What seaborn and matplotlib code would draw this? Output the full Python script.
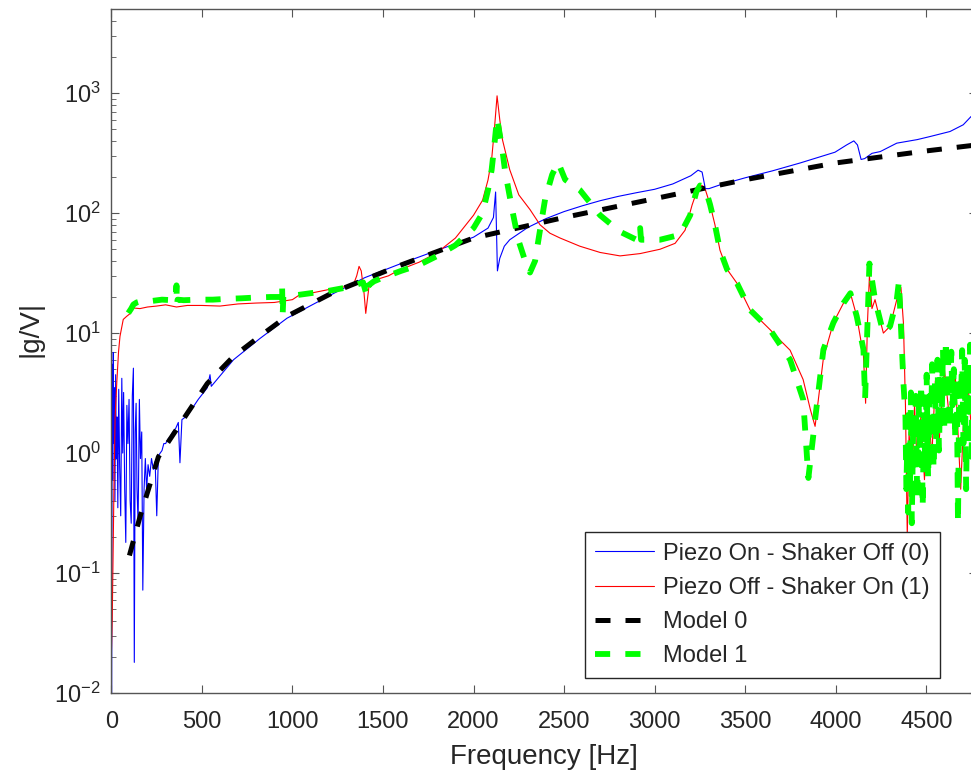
import numpy as np
import pandas as pd
import matplotlib
matplotlib.use("Agg")
import matplotlib.pyplot as plt
import seaborn as sns

sns.set_style('ticks')
plt.rcParams['font.family'] = ['Liberation Sans', 'DejaVu Sans']
plt.rcParams['mathtext.fontset'] = 'custom'
plt.rcParams['mathtext.rm'] = 'Liberation Sans'
plt.rcParams['mathtext.it'] = 'Liberation Sans:italic'

# Piezo On - Shaker Off (0)
f_piezo = [2, 5, 8, 11, 14, 17, 20, 24, 28, 32, 36, 41, 46, 52, 58, 63, 68, 74, 80, 86,
           92, 98, 104, 110, 116, 122, 127, 132, 137, 142, 148, 155, 161, 168, 174, 181,
           188, 195, 203, 212, 222, 232, 242, 251, 260, 270, 280, 290, 300, 312, 325, 340,
           355, 370, 379, 390, 420, 480, 530, 545, 552, 675, 820, 970, 1230, 1400, 1580,
           1800, 2000, 2080, 2110, 2122, 2128, 2132, 2145, 2170, 2200, 2300, 2400, 2500,
           2600, 2700, 2800, 2900, 3000, 3100, 3200, 3240, 3262, 3280, 3300, 3361, 3500,
           3650, 3804, 3996, 4060, 4100, 4120, 4140, 4160, 4200, 4246, 4337, 4450, 4521,
           4631, 4704, 4747, 4790]
g_piezo = [0.01, 5.5, 0.6, 6.9, 1.2, 3.5, 0.4, 4.5, 0.9, 2.0, 0.35, 3.4, 0.8, 0.3, 4.2,
           1.0, 3.2, 0.5, 0.18, 2.5, 1.2, 2.8, 0.4, 0.26, 3.0, 5.1, 0.018, 1.5, 2.6, 0.5,
           0.26, 2.8, 0.9, 1.5, 0.072, 0.5, 0.9, 0.49, 0.8, 0.64, 0.9, 0.73, 0.85, 0.30,
           0.95, 1.0, 1.05, 1.2, 1.2, 1.3, 1.37, 1.5, 1.6, 1.8, 0.83, 1.9, 2.05, 2.8, 3.5,
           4.5, 3.6, 6.0, 9.0, 13.3, 21.5, 29, 37, 49, 63, 75, 92, 150, 60, 33, 42, 53, 60,
           76, 90, 103, 115, 127, 138, 148, 158, 175, 205, 228, 220, 160, 160, 172, 197,
           225, 262, 322, 370, 400, 370, 280, 285, 315, 326, 383, 410, 435, 479, 545, 638,
           680]

# Piezo Off - Shaker On (1)
f_shaker = [0, 5, 10, 15, 21, 30, 40, 48, 66, 85, 103, 120, 158, 200, 250, 300, 360, 420,
            500, 600, 700, 800, 900, 1000, 1043, 1100, 1227, 1300, 1337, 1355, 1368, 1380,
            1395, 1405, 1412, 1425, 1465, 1530, 1594, 1700, 1800, 1900, 2000, 2050, 2080,
            2100, 2115, 2130, 2145, 2160, 2200, 2250, 2312, 2367, 2422, 2478, 2587, 2699,
            2809, 2920, 3030, 3113, 3168, 3207, 3240, 3262, 3280, 3306, 3333, 3361, 3400,
            3455, 3527, 3637, 3700, 3748, 3820, 3860, 3886, 3932, 3987, 4043, 4081, 4116,
            4153, 4165, 4175, 4186, 4200, 4217, 4263, 4300, 4337, 4360, 4374, 4385, 4395,
            4405, 4420, 4435, 4450, 4470, 4490, 4510, 4530, 4550, 4570, 4600, 4630, 4660,
            4690, 4720, 4750, 4780]
g_shaker = [0.02, 0.04, 0.15, 0.56, 2.0, 3.8, 7.0, 9.4, 13, 13.8, 14.5, 16.2, 16, 16.5,
            16.8, 17.2, 16.5, 17, 17, 16.8, 17.5, 17.8, 18, 19, 21, 21.5, 23.5, 24.5, 25.4,
            30, 36, 33, 22, 14.6, 18, 26, 28, 30, 33.8, 39, 47, 62, 96, 128, 189, 280, 494,
            950, 600, 408, 230, 142, 107, 80, 68, 62, 53, 47, 44, 46, 50, 56, 72, 117, 163,
            170, 157, 118, 80, 49, 34, 26, 15.6, 10.7, 8.5, 7.2, 4.1, 2.3, 1.67, 6.2, 12.2,
            17.8, 21.5, 13.8, 6.5, 2.6, 12, 30, 16, 19, 10, 11.4, 19, 24, 12, 2.5, 0.2, 1.5,
            0.5, 2.5, 0.8, 2.0, 0.6, 3.0, 0.9, 4.0, 1.2, 5.0, 1.8, 4.5, 0.5, 6.0, 1.5, 5.0]

# Model 0
f_model0 = [100, 160, 260, 420, 530, 675, 820, 970, 1230, 1580, 2000, 2500, 3000, 3500,
            4000, 4500, 4790]
g_model0 = [0.14, 0.30, 0.93, 2.15, 3.8, 6.4, 9.4, 13.8, 22, 36, 62, 92, 132, 190, 262,
            330, 372]

# Model 1
f_model1 = [94, 110, 122, 140, 177, 220, 280, 340, 355, 360, 362, 366, 400, 480, 560, 640,
            720, 800, 880, 940, 943, 946, 950, 1000, 1100, 1200, 1300, 1360, 1390, 1405,
            1412, 1420, 1450, 1500, 1600, 1700, 1800, 1900, 2000, 2050, 2080, 2100, 2115,
            2130, 2145, 2160, 2175, 2214, 2247, 2285, 2312, 2340, 2367, 2395, 2434, 2467,
            2506, 2587, 2699, 2809, 2900, 2915, 2920, 2925, 2940, 3030, 3140, 3196, 3230,
            3251, 3265, 3280, 3306, 3333, 3361, 3400, 3455, 3527, 3637, 3748, 3820, 3849,
            3886, 3932, 3987, 4043, 4081, 4116, 4153, 4162, 4186, 4217, 4263, 4300, 4337,
            4349, 4374, 4385, 4390, 4395, 4400, 4405, 4410, 4415, 4420, 4428, 4435, 4442,
            4450, 4458, 4465, 4472, 4480, 4488, 4495, 4502, 4510, 4518, 4525, 4532, 4540,
            4548, 4555, 4562, 4570, 4578, 4585, 4592, 4600, 4608, 4615, 4622, 4630, 4638,
            4645, 4652, 4660, 4668, 4675, 4682, 4690, 4698, 4705, 4712, 4720, 4728, 4735,
            4742, 4750, 4758, 4765, 4772, 4780]
g_model1 = [14.7, 16, 17.3, 18, 18.7, 18.5, 19, 18.8, 19, 25, 17, 19, 18.8, 19, 19, 19.3,
            19.5, 19.8, 20, 20, 25, 14, 20, 20.5, 21.5, 22.5, 24, 25.5, 26.5, 22, 20, 25,
            27, 29, 33, 37, 44, 54, 75, 100, 156, 229, 370, 620, 450, 330, 220, 106, 60, 40,
            32, 40, 72, 130, 209, 265, 190, 156, 96, 70, 60, 60, 75, 60, 60, 60, 66, 96, 150,
            170, 168, 160, 118, 80, 49, 34, 26, 15.6, 10.7, 6.0, 2.8, 0.62, 1.9, 7.3, 12.2,
            17.8, 21.5, 13.8, 7.3, 2.8, 38, 19, 10, 11.4, 19, 27, 3.8, 2.0, 0.5, 1.2, 0.32,
            2.5, 0.45, 3.2, 0.26, 2.0, 0.5, 3.0, 0.4, 2.6, 0.8, 3.8, 0.35, 2.2, 0.7, 4.5,
            0.6, 3.0, 1.0, 5.5, 0.73, 4.0, 1.2, 6.0, 1.05, 4.5, 1.8, 7.5, 1.5, 8.8, 2.0, 6.5,
            1.55, 7.0, 2.5, 5.0, 1.3, 4.5, 0.26, 3.5, 2.0, 7.2, 1.2, 6.0, 0.5, 5.5, 2.2, 8.0,
            0.93, 10, 3.0, 6.5, 2.5]

x_ticks = [0, 500, 1000, 1500, 2000, 2500, 3000, 3500, 4000, 4500]

series = [
    ('Piezo On - Shaker Off (0)', f_piezo, g_piezo, dict(color=(0, 0, 1), lw=0.8, linestyle='-')),
    ('Piezo Off - Shaker On (1)', f_shaker, g_shaker, dict(color=(1, 0, 0), lw=0.8, linestyle='-')),
    ('Model 0', f_model0, g_model0, dict(color='black', lw=3.6, linestyle=(0, (3, 3)))),
    ('Model 1', f_model1, g_model1, dict(color=(0, 1, 0), lw=4.2, linestyle=(0, (2.6, 2.6)))),
]

fig = plt.figure(figsize=(9.71, 7.78), dpi=100)
ax = fig.add_axes([111.3 / 971, 85 / 778, 865.7 / 971, 683.7 / 778])
ax.set_yscale('log')

for name, f, g, style in series:
    df = pd.DataFrame({'Frequency': f, 'Gain': g})
    sns.lineplot(data=df, x='Frequency', y='Gain', ax=ax, estimator=None, sort=False,
                 label=name, **style)

ax.set_xlim(0, 4780)
ax.set_ylim(0.01, 5000)
ax.set_xticks(x_ticks)
ax.set_xlabel('Frequency [Hz]', fontsize=20, color='#262626')
ax.set_ylabel('|g/V|', fontsize=20, color='#262626')
ax.xaxis.set_label_coords(0.5, -0.074)
ax.yaxis.set_label_coords(-0.078, 0.532)

for s in ax.spines.values():
    s.set_color('#555555')
    s.set_linewidth(1.0)
ax.tick_params(which='both', direction='in', top=True, right=True, colors='#555555',
               labelcolor='#262626', labelsize=17)
ax.tick_params(axis='x', which='major', length=6, pad=13)
ax.tick_params(axis='y', which='major', length=6, pad=7.5)
ax.tick_params(axis='y', which='minor', length=3.5)
ax.tick_params(axis='x', which='minor', bottom=False, top=False)

leg = ax.legend(loc='lower right', bbox_to_anchor=(940 / 971, 100 / 778),
                bbox_transform=fig.transFigure, borderaxespad=0, fontsize=17,
                frameon=True, fancybox=False, framealpha=1, edgecolor='#262626',
                handlelength=2.5, handletextpad=0.35, labelspacing=0.52, borderpad=0.45)
leg.get_frame().set_linewidth(1.0)

plt.savefig('out.png', dpi=100)
